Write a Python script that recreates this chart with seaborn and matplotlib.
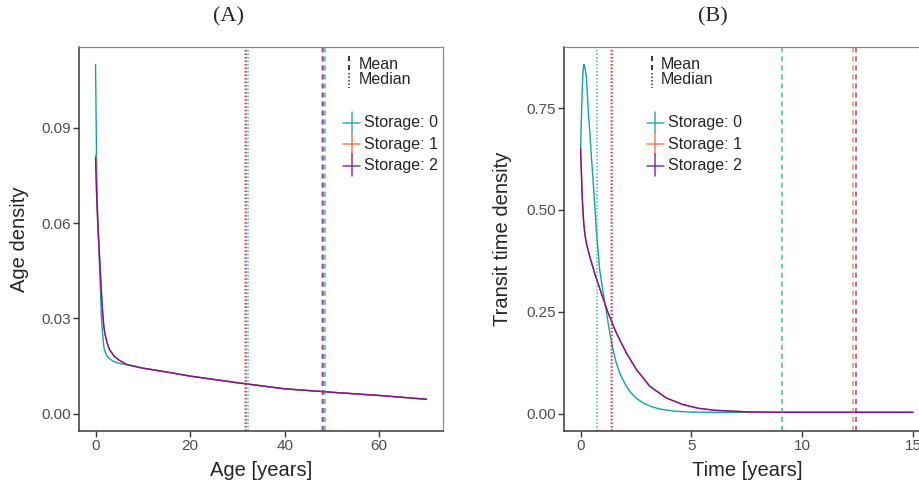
import numpy as np
import pandas as pd
import matplotlib
matplotlib.use('Agg')
import matplotlib.pyplot as plt
from matplotlib.lines import Line2D
import seaborn as sns

sns.set_style('ticks')
plt.rcParams['font.family'] = ['Liberation Sans', 'DejaVu Sans']

storages = ['Storage: 0', 'Storage: 1', 'Storage: 2']
colors = {'Storage: 0': '#12A4A4', 'Storage: 1': '#F96A3D', 'Storage: 2': '#7A1296'}

# (A) age density
age_x = [0, 0.25, 0.5, 0.75, 1.0, 1.25, 1.5, 1.75, 2.0, 2.5, 3.0, 4.0, 5.0, 6.5,
         10, 15, 20, 30, 40, 50, 60, 70]
age_s0 = [0.110, 0.075, 0.060, 0.050, 0.040, 0.030, 0.025, 0.021, 0.0195, 0.0180,
          0.0172, 0.0163, 0.0158, 0.0154, 0.0143, 0.0131, 0.0118, 0.0097, 0.0078,
          0.0067, 0.0057, 0.0045]
age_s1 = [0.0815, 0.068, 0.059, 0.052, 0.045, 0.038, 0.032, 0.0275, 0.025, 0.022,
          0.0200, 0.0180, 0.0168, 0.0155, 0.0143, 0.0131, 0.0118, 0.0097, 0.0078,
          0.0067, 0.0057, 0.0045]
age_s2 = [0.0805, 0.068, 0.059, 0.052, 0.045, 0.038, 0.032, 0.0275, 0.025, 0.022,
          0.0200, 0.0180, 0.0168, 0.0155, 0.0143, 0.0131, 0.0118, 0.0097, 0.0078,
          0.0067, 0.0057, 0.0045]
age_mean = [48.6, 47.95, 48.05]
age_median = [32.3, 31.65, 31.75]

# (B) transit time density
tt_x0 = [0, 0.04, 0.08, 0.11, 0.15, 0.19, 0.26, 0.36, 0.41, 0.48, 0.56, 0.64,
         0.71, 0.86, 1.01, 1.16, 1.31, 1.46, 1.6, 1.76, 2.0, 2.21, 2.5, 2.82,
         3.2, 3.57, 4.2, 4.93, 6, 8, 10, 15]
tt_s0 = [0.650, 0.735, 0.805, 0.842, 0.857, 0.850, 0.827, 0.729, 0.696, 0.635,
         0.574, 0.510, 0.451, 0.353, 0.300, 0.250, 0.200, 0.157, 0.126, 0.100,
         0.073, 0.055, 0.038, 0.026, 0.017, 0.011, 0.006, 0.0035, 0.003, 0.003,
         0.003, 0.003]
tt_x12 = [0, 0.03, 0.07, 0.14, 0.2, 0.26, 0.41, 0.63, 0.93, 1.24, 1.61, 2.06,
          2.52, 3.12, 3.87, 4.62, 5.3, 6.05, 7.56, 9.0, 15]
tt_s1 = [0.650, 0.600, 0.533, 0.467, 0.437, 0.418, 0.386, 0.345, 0.296, 0.247,
         0.198, 0.149, 0.108, 0.067, 0.038, 0.022, 0.013, 0.008, 0.004, 0.003,
         0.003]
tt_s2 = [0.650, 0.600, 0.533, 0.467, 0.437, 0.418, 0.386, 0.345, 0.296, 0.247,
         0.198, 0.149, 0.108, 0.067, 0.038, 0.022, 0.013, 0.008, 0.004, 0.003,
         0.003]
tt_mean = [9.11, 12.31, 12.43]
tt_median = [0.74, 1.38, 1.40]

df_age = pd.concat([
    pd.DataFrame({'x': age_x, 'y': age_s0, 'Storage': storages[0]}),
    pd.DataFrame({'x': age_x, 'y': age_s1, 'Storage': storages[1]}),
    pd.DataFrame({'x': age_x, 'y': age_s2, 'Storage': storages[2]}),
], ignore_index=True)
df_tt = pd.concat([
    pd.DataFrame({'x': tt_x0, 'y': tt_s0, 'Storage': storages[0]}),
    pd.DataFrame({'x': tt_x12, 'y': tt_s1, 'Storage': storages[1]}),
    pd.DataFrame({'x': tt_x12, 'y': tt_s2, 'Storage': storages[2]}),
], ignore_index=True)

W, H = 919, 484
fig = plt.figure(figsize=(W / 100, H / 100), dpi=100)
axA = fig.add_axes([79 / W, 1 - 431 / H, 364 / W, 384 / H])
axB = fig.add_axes([564 / W, 1 - 431 / H, 365.6 / W, 384 / H])

dashed = (0, (3.3, 2.6))
dotted = (0, (1.0, 1.3))


def style_axes(ax):
    for side in ['left', 'bottom']:
        ax.spines[side].set_color('#3a3a3a')
        ax.spines[side].set_linewidth(1.1)
    for side in ['top', 'right']:
        ax.spines[side].set_color('#8c8c8c')
        ax.spines[side].set_linewidth(0.9)
    ax.tick_params(direction='out', length=4, width=1, color='#3a3a3a',
                   labelsize=11, labelcolor='#4D4D4D', pad=2)


for ax, df, means, medians in [(axA, df_age, age_mean, age_median),
                               (axB, df_tt, tt_mean, tt_median)]:
    sns.lineplot(data=df, x='x', y='y', hue='Storage', hue_order=storages,
                 palette=colors, linewidth=1.0, legend=False, ax=ax,
                 estimator=None, sort=False)
    for s, m, md in zip(storages, means, medians):
        ax.axvline(m, color=colors[s], ls=dashed, lw=1.1, alpha=0.8)
        ax.axvline(md, color=colors[s], ls=dotted, lw=1.1, alpha=0.8)
    style_axes(ax)

axA.set_xlim(-3.5, 73.5)
axA.set_ylim(-0.0055, 0.1155)
axA.set_xticks([0, 20, 40, 60])
axA.set_yticks([0, 0.03, 0.06, 0.09])
axA.set_yticklabels(['0.00', '0.03', '0.06', '0.09'])
axA.set_xlabel('Age [years]', fontsize=14.5, va='center')
axA.set_ylabel('Age density', fontsize=14.5, va='center')
axA.xaxis.set_label_coords(0.5, -39 / 384)
axA.yaxis.set_label_coords(-59 / 364, 0.5)

axB.set_xlim(-0.75, 15.75)
axB.set_ylim(-0.0429, 0.8999)
axB.set_xticks([0, 5, 10, 15])
axB.set_yticks([0, 0.25, 0.5, 0.75])
axB.set_yticklabels(['0.00', '0.25', '0.50', '0.75'])
axB.set_xlabel('Time [years]', fontsize=14.5, va='center')
axB.set_ylabel('Transit time density', fontsize=14.5, va='center')
axB.xaxis.set_label_coords(0.5, -39 / 384)
axB.yaxis.set_label_coords(-61 / 365.6, 0.5)

fig.text(228 / W, 1 - 17 / H, '(A)', ha='center', va='center', fontsize=16,
         family=['Liberation Serif', 'DejaVu Serif'])
fig.text(713 / W, 1 - 17 / H, '(B)', ha='center', va='center', fontsize=16,
         family=['Liberation Serif', 'DejaVu Serif'])


def fx(x):
    return x / W


def fy(y):
    return 1 - y / H


def legend_block(xm, xs):
    fig.add_artist(Line2D([fx(xm)] * 2, [fy(56), fy(71.5)], color='black',
                          ls=dashed, lw=1.1))
    fig.add_artist(Line2D([fx(xm)] * 2, [fy(73), fy(87.5)], color='#333333',
                          ls=dotted, lw=1.1))
    fig.text(fx(xm + 9.5), fy(64.3), 'Mean', va='center', fontsize=11.5)
    fig.text(fx(xm + 9.5), fy(80), 'Median', va='center', fontsize=11.5)
    for i, s in enumerate(storages):
        top = 111.7 + i * 21.3
        yc = 122.7 + i * 21.5
        fig.add_artist(Line2D([fx(xs)] * 2, [fy(top), fy(top + 21.3)],
                              color=colors[s], lw=1.1, alpha=0.85))
        fig.add_artist(Line2D([fx(xs - 8.5), fx(xs + 8.5)], [fy(yc)] * 2,
                              color=colors[s], lw=1.1, alpha=0.85))
        fig.text(fx(xs + 12.6), fy(yc), s, va='center', fontsize=11.5)


legend_block(349, 351.7)
legend_block(651.7, 655)

fig.savefig('out.png', dpi=100)
